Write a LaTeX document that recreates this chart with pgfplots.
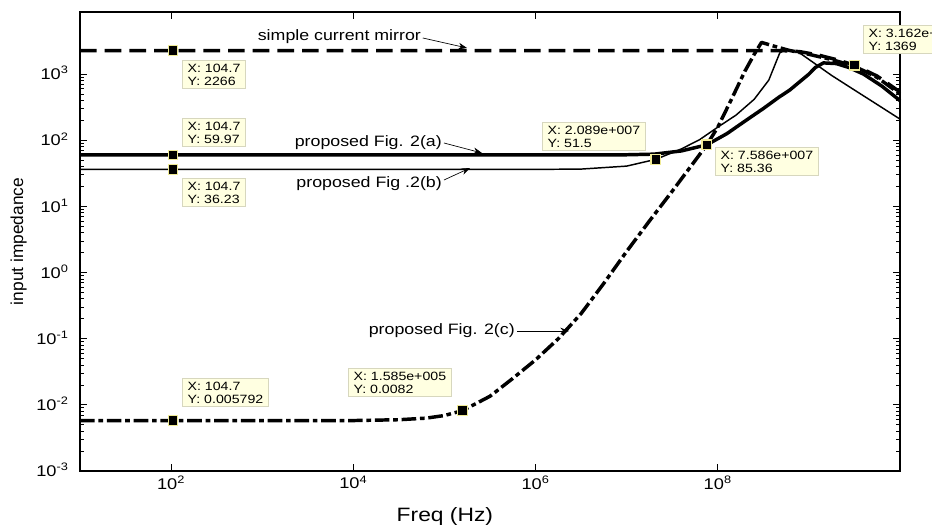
\documentclass[border=0pt]{standalone}
\usepackage{fontspec}
\setmainfont{Liberation Sans}[FakeStretch=1.18]
\newfontfamily\ylabfont{Liberation Sans}
\usepackage{pgfplots}
\pgfplotsset{compat=1.18}
\usetikzlibrary{arrows.meta,calc}
\definecolor{tipfill}{RGB}{255,255,225}
\definecolor{tipedge}{RGB}{215,215,190}
\definecolor{tipmark}{RGB}{240,235,150}

\tikzset{
  tip/.style={draw=tipedge, fill=tipfill, line width=0.5pt, align=left, anchor=north west,
    inner xsep=4pt, inner ysep=2.5pt, font=\fontsize{9}{9.8}\selectfont},
  lbl/.style={font=\fontsize{11.3}{13}\selectfont, anchor=east, inner sep=0pt},
  pointer/.style={line width=0.5pt, -{Stealth[length=6.5pt,width=5pt]}},
}

\begin{document}
\begin{tikzpicture}
\begin{axis}[
    scale only axis,
    width=615pt, height=344.25pt,
    xmode=log, ymode=log,
    xmin=10, xmax=1e10,
    ymin=1e-3, ymax=8700,
    xtick={1e2,1e4,1e6,1e8},
    xticklabels={10\textsuperscript{2},10\textsuperscript{4},10\textsuperscript{6},10\textsuperscript{8}},
    ytick={1e-3,1e-2,1e-1,1,1e1,1e2,1e3},
    yticklabels={10\textsuperscript{-3},10\textsuperscript{-2},10\textsuperscript{-1},10\textsuperscript{0},10\textsuperscript{1},10\textsuperscript{2},10\textsuperscript{3}},
    xminorticks=false,
    tick align=inside,
    major tick length=5pt, minor tick length=2.7pt,
    axis line style={line width=0.9pt},
    tick style={black, line width=0.6pt},
    tick label style={font=\fontsize{11.6}{13}\selectfont},
    yticklabel style={anchor=base east, xshift=-5pt, yshift=-4.2pt},
    xlabel={Freq (Hz)},
    xlabel style={at={(axis description cs:0.445,-0.109)}, anchor=base, font=\fontsize{14.5}{16}\selectfont},
    ylabel={input impedance},
    ylabel style={at={(axis description cs:-0.0695,0.5)}, anchor=base, font=\ylabfont\fontsize{13}{15}\selectfont},
    clip=false,
]
% simple current mirror
\addplot[black, line width=2.6pt, dash pattern=on 12.5pt off 6pt, line join=round] coordinates {
  (10,2266) (1e8,2266) (5.012e8,2266) (6.31e8,2240) (7.943e8,2188) (1.259e9,1950)
  (1.995e9,1660) (3.162e9,1369) (5.623e9,933) (1e10,537)
};
% proposed Fig. 2(a)
\addplot[black, line width=2.6pt, line join=round] coordinates {
  (10,59.97) (3.162e6,59.97) (1e7,60.4) (1.995e7,61.7) (3.981e7,69) (7.586e7,85.36)
  (1.259e8,126) (2.042e8,200) (3.162e8,302) (4.677e8,447) (6.166e8,575) (1e9,1000)
  (1.175e9,1259) (1.445e9,1479) (1.995e9,1445) (2.754e9,1259) (3.981e9,1000)
  (6.31e9,661) (1e10,398)
};
% proposed Fig .2(b)
\addplot[black, line width=1.1pt, line join=round] coordinates {
  (10,36.23) (1e6,36.3) (3.162e6,36.7) (1e7,40.7) (2.089e7,51.5) (3.981e7,74)
  (6.31e7,102) (1e8,158) (1.585e8,240) (2.512e8,417) (3.631e8,813) (4.266e8,1413)
  (4.786e8,2089) (5.495e8,2344) (6.31e8,2291) (7.943e8,2089) (1.778e9,955)
  (3.162e9,575) (5.623e9,347) (1e10,209)
};
% proposed Fig. 2(c)
\addplot[black, line width=2.6pt, dash pattern=on 11pt off 2.8pt on 3.5pt off 2.8pt, line join=round] coordinates {
  (10,0.005792) (1e4,0.005792) (3.162e4,0.00596) (6.31e4,0.0063) (1e5,0.0069)
  (1.585e5,0.0082) (3.162e5,0.0135) (5.623e5,0.0251) (1e6,0.0479) (1.778e6,0.1)
  (3.162e6,0.24) (5.623e6,0.69) (1e7,2.09) (1.778e7,6.03) (3.162e7,17.0)
  (5.623e7,49) (7.586e7,85.36) (1e8,158) (1.413e8,417) (1.995e8,1122)
  (2.512e8,1995) (3.02e8,3020) (3.981e8,2692) (6.026e8,2291) (1e9,1995)
  (1.778e9,1660) (3.162e9,1318) (5.623e9,891) (1e10,501)
};
% data tip markers
\addplot[only marks, mark=square*, mark size=3.6pt, mark options={fill=black, draw=tipmark, line width=0.9pt}] coordinates {
  (104.7,2266) (104.7,59.97) (104.7,36.23) (104.7,0.005792)
  (1.585e5,0.0082) (2.089e7,51.5) (7.586e7,85.36) (3.162e9,1369)
};

% data tips
\node[tip] at (rel axis cs:0.1244,0.8954) {X: 104.7\\Y: 2266};
\node[tip] at (rel axis cs:0.1244,0.7690) {X: 104.7\\Y: 59.97};
\node[tip] at (rel axis cs:0.1244,0.6383) {X: 104.7\\Y: 36.23};
\node[tip] at (rel axis cs:0.1244,0.2026) {X: 104.7\\Y: 0.005792};
\node[tip] at (rel axis cs:0.3268,0.2244) {X: 1.585e+005\\Y: 0.0082};
\node[tip] at (rel axis cs:0.5634,0.7603) {X: 2.089e+007\\Y: 51.5};
\node[tip] at (rel axis cs:0.7744,0.7059) {X: 7.586e+007\\Y: 85.36};
\node[tip] at (rel axis cs:0.9549,0.9717) {X: 3.162e+009\\Y: 1369};

% curve labels
\node[lbl] at (rel axis cs:0.416,0.9455) {simple current mirror};
\draw[pointer] (rel axis cs:0.418,0.9434) -- (rel axis cs:0.472,0.9216);
\node[lbl] at (rel axis cs:0.4415,0.7146) {proposed Fig. 2(a)};
\draw[pointer] (rel axis cs:0.4439,0.7146) -- (rel axis cs:0.4902,0.6928);
\node[lbl] at (rel axis cs:0.4415,0.6253) {proposed Fig .2(b)};
\draw[pointer] (rel axis cs:0.4439,0.634) -- (rel axis cs:0.4756,0.6601);
\node[lbl] at (rel axis cs:0.5305,0.305) {proposed Fig. 2(c)};
\draw[pointer] (rel axis cs:0.533,0.305) -- (rel axis cs:0.5963,0.305);
\end{axis}
\pgfresetboundingbox
\path[use as bounding box] ($(current axis.south west)+(-60pt,-40.5pt)$) rectangle ($(current axis.north east)+(24pt,9pt)$);
\end{tikzpicture}
\end{document}
